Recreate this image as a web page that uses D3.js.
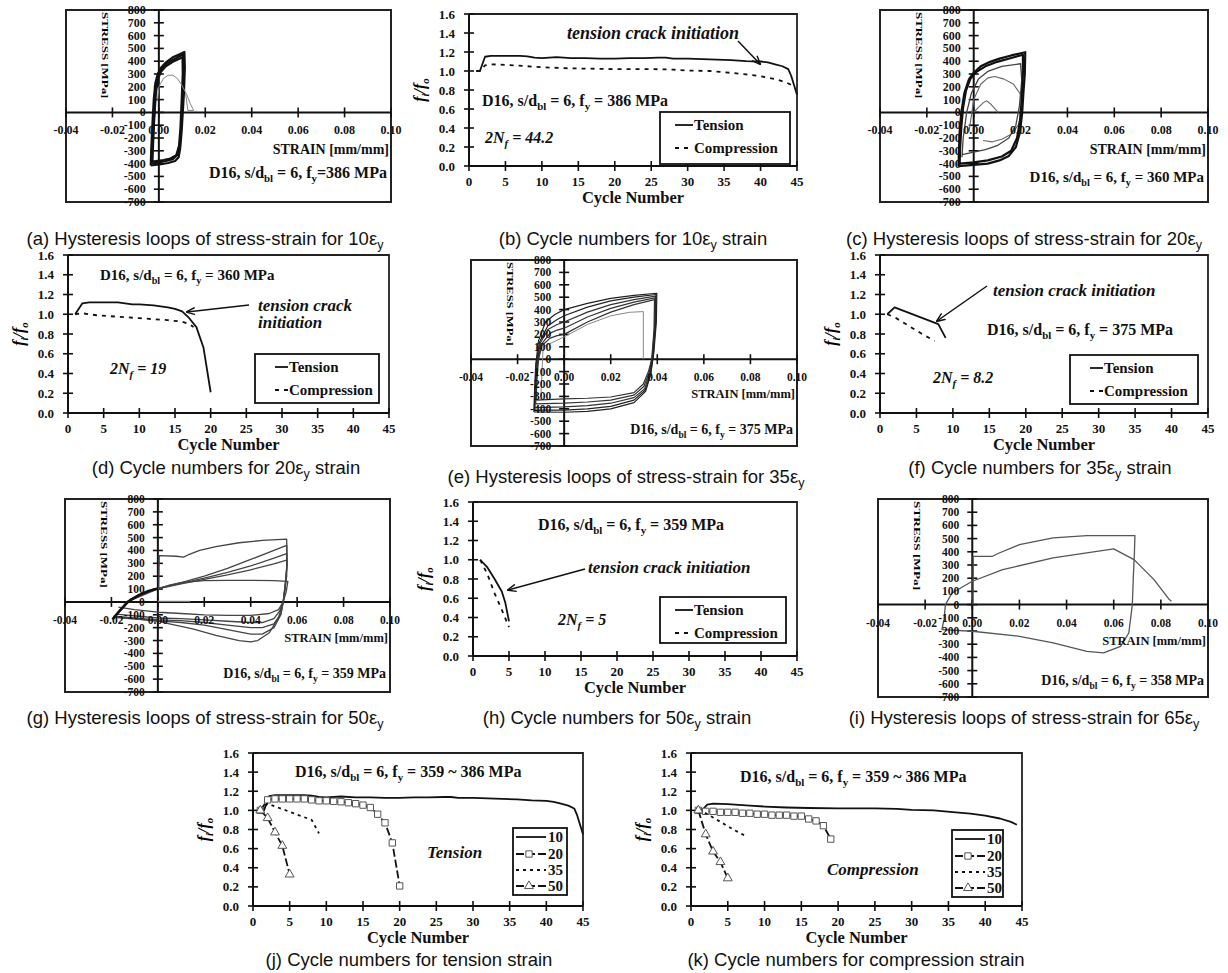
<!DOCTYPE html>
<html>
<head>
<meta charset="utf-8">
<script src="https://cdn.jsdelivr.net/npm/d3@7"></script>
<style>
  body { margin: 0; background: #fff; }
  svg { display: block; }
</style>
</head>
<body>
<svg id="fig" width="1228" height="973"></svg>
<script>
// ---- tick values ----
const strainTicks = [-0.04, -0.02, 0, 0.02, 0.04, 0.06, 0.08, 0.10]
const stressTicks = d3.range(-700, 801, 100)
const cycleTicks = d3.range(0, 46, 5)
const ratioTicks = [0, 0.2, 0.4, 0.6, 0.8, 1.0, 1.2, 1.4, 1.6]
const sumLabels = ['10', '20', '35', '50']

// ---- hysteresis loops [strain, stress MPa] ----
// 10 ey
const loop10a = [[-0.0035,-415],[-0.0033,-300],[-0.0028,-100],[-0.0022,100],[-0.0015,230],[-0.0005,300],[0.001,350],[0.003,390],[0.006,430],[0.009,455],[0.011,472],[0.0112,350],[0.0108,150],[0.0103,0],[0.0098,-150],[0.0092,-280],[0.0085,-350],[0.007,-380],[0.004,-395],[0.001,-405],[-0.0035,-415]]
const loop10b = [[-0.003,-400],[-0.0028,-280],[-0.0022,-80],[-0.0016,120],[-0.001,240],[0,310],[0.002,360],[0.005,400],[0.008,430],[0.0105,452],[0.0107,320],[0.0102,100],[0.0097,-100],[0.009,-250],[0.008,-330],[0.006,-365],[0.003,-380],[0,-390],[-0.003,-400]]
const loop10c = [[-0.0028,-385],[-0.0025,-250],[-0.002,-50],[-0.0013,150],[-0.0005,260],[0.001,320],[0.003,360],[0.006,395],[0.0095,425],[0.0102,432],[0.0103,300],[0.0098,80],[0.0093,-120],[0.0087,-260],[0.0075,-335],[0.005,-360],[0.002,-372],[-0.0028,-385]]
const loop10f = [[-0.0005,100],[0,200],[0.002,265],[0.004,290],[0.006,290],[0.008,265],[0.010,210],[0.012,140],[0.0135,70],[0.015,15],[0.0125,15],[0.0115,150]]
// 20 ey
const loop20a = [[-0.0065,-420],[-0.0063,-300],[-0.006,-150],[-0.0053,0],[-0.004,150],[-0.002,260],[0,310],[0.003,360],[0.007,395],[0.011,420],[0.016,445],[0.022,470],[0.0218,300],[0.0212,150],[0.0207,0],[0.0198,-150],[0.018,-270],[0.015,-340],[0.011,-375],[0.006,-400],[0,-410],[-0.0065,-420]]
const loop20b = [[-0.006,-400],[-0.0058,-280],[-0.0053,-120],[-0.0046,30],[-0.0033,170],[-0.0015,260],[0.001,315],[0.005,360],[0.01,395],[0.016,425],[0.021,450],[0.021,300],[0.0205,100],[0.0198,-60],[0.0185,-200],[0.016,-300],[0.012,-345],[0.006,-375],[0,-390],[-0.006,-400]]
const loop20c = [[-0.005,-350],[-0.0045,-200],[-0.003,0],[-0.001,150],[0.002,260],[0.006,320],[0.012,360],[0.02,380],[0.0205,250],[0.0195,50],[0.018,-100],[0.015,-200],[0.01,-260],[0.005,-290],[0,-310],[-0.005,-330]]
const loop20d = [[-0.002,-150],[0,100],[0.003,220],[0.006,270],[0.009,280],[0.013,260],[0.017,220],[0.02,140],[0.0205,0],[0.019,-100],[0.016,-170],[0.012,-210],[0.008,-230],[0.004,-220]]
const loop20f = [[0,0],[0.002,40],[0.004,75],[0.0055,90],[0.007,70],[0.009,30],[0.0105,0]]
// 35 ey
const loop35a = [[-0.013,-425],[-0.0127,-250],[-0.0122,-50],[-0.011,150],[-0.008,300],[-0.004,360],[0,400],[0.01,450],[0.02,490],[0.03,515],[0.0398,532],[0.0396,300],[0.0385,50],[0.0372,-120],[0.035,-260],[0.03,-350],[0.02,-400],[0.01,-420],[0,-428],[-0.013,-425]]
const loop35b = [[-0.0128,-410],[-0.0125,-230],[-0.012,-30],[-0.0105,140],[-0.007,270],[-0.003,320],[0,350],[0.01,420],[0.02,470],[0.03,500],[0.0395,522],[0.0393,280],[0.0382,30],[0.037,-130],[0.0348,-250],[0.03,-330],[0.02,-380],[0.01,-400],[0,-410],[-0.0128,-410]]
const loop35c = [[-0.0125,-390],[-0.0122,-210],[-0.0116,-20],[-0.0102,130],[-0.007,240],[-0.003,280],[0,300],[0.01,380],[0.02,440],[0.03,480],[0.0393,508],[0.039,260],[0.038,20],[0.0367,-120],[0.0345,-240],[0.03,-310],[0.02,-355],[0.01,-375],[0,-385],[-0.0125,-390]]
const loop35d = [[-0.0122,-360],[-0.012,-190],[-0.0113,-10],[-0.0098,120],[-0.006,210],[-0.003,235],[0,250],[0.01,340],[0.02,410],[0.03,460],[0.039,495],[0.0388,250],[0.0378,10],[0.0365,-110],[0.0342,-220],[0.03,-290],[0.02,-330],[0.01,-345],[0,-355],[-0.0122,-360]]
const loop35e = [[-0.012,-330],[-0.0117,-170],[-0.011,0],[-0.0095,110],[-0.006,170],[-0.003,190],[0,200],[0.01,300],[0.02,380],[0.03,440],[0.0388,480],[0.0386,240],[0.0376,0],[0.0362,-100],[0.034,-200],[0.03,-270],[0.02,-305],[0.01,-315],[0,-320],[-0.012,-330]]
const loop35f = [[-0.01,-300],[-0.009,100],[0,180],[0.01,280],[0.02,350],[0.028,378],[0.034,384],[0.034,0]]
// 50 ey
const loop50o = [[-0.0195,-135],[-0.017,-80],[-0.013,0],[-0.008,55],[-0.004,85],[0,105]]
const loop50a = [[0.0004,100],[0.0006,360],[0.008,355],[0.011,348],[0.013,365],[0.018,400],[0.025,430],[0.035,460],[0.045,478],[0.0555,488],[0.0557,300],[0.0548,100],[0.054,0],[0.052,-120],[0.048,-240],[0.043,-300],[0.04,-310],[0.035,-300],[0.025,-260],[0.015,-210],[0.005,-170],[0,-150],[-0.01,-130],[-0.019,-115]]
const loop50b = [[-0.019,-115],[-0.016,-60],[-0.012,20],[-0.006,75],[0,105],[0.01,150],[0.02,200],[0.03,260],[0.04,330],[0.05,400],[0.0555,440],[0.0556,300],[0.055,150],[0.054,0],[0.053,-100],[0.05,-200],[0.045,-250],[0.04,-250],[0.03,-215],[0.02,-180],[0.01,-160],[0,-148],[-0.019,-120]]
const loop50c = [[-0.019,-120],[-0.012,15],[0,105],[0.01,145],[0.02,185],[0.03,230],[0.04,280],[0.05,340],[0.0555,375],[0.0555,250],[0.054,0],[0.053,-90],[0.05,-170],[0.045,-200],[0.04,-200],[0.03,-180],[0.02,-160],[0.01,-145],[0,-140],[-0.019,-110]]
const loop50d = [[-0.018,-105],[-0.012,10],[0,102],[0.01,140],[0.02,175],[0.03,210],[0.04,250],[0.05,295],[0.0555,325],[0.0555,200],[0.054,0],[0.0525,-70],[0.05,-130],[0.045,-160],[0.04,-160],[0.03,-150],[0.02,-140],[0.01,-130],[0,-125],[-0.018,-95]]
const loop50e = [[0,100],[0.005,130],[0.01,150],[0.02,165],[0.03,168],[0.04,168],[0.05,165],[0.056,160],[0.0553,80],[0.054,0],[0.052,-60],[0.048,-90],[0.04,-105],[0.03,-105],[0.02,-100],[0.01,-90],[0,-80],[-0.01,-60],[-0.017,-40]]
const loop50f = [[0,6],[0.014,6]]
// 65 ey
const loop65a = [[0.0003,0],[0.0004,366],[0.0086,366],[0.0114,391],[0.02,454],[0.0343,505],[0.0486,523],[0.069,523],[0.0688,400],[0.0683,200],[0.0679,0],[0.0664,-215],[0.0629,-316],[0.0557,-366],[0.0486,-354],[0.0343,-290],[0.02,-240],[0,-202],[-0.0129,-189]]
const loop65b = [[-0.0129,-189],[-0.012,-114],[-0.0114,0],[-0.0086,88],[0,177],[0.0129,265],[0.0343,354],[0.05,395],[0.06,422],[0.0686,341],[0.0771,189],[0.0836,38],[0.0845,25]]

// ---- fi/fo against cycle number [cycle, ratio] ----
const tension10 = [[1,1.0],[1.5,1.0],[2.2,1.15],[3,1.16],[5,1.16],[7,1.16],[8,1.155],[9,1.14],[10,1.135],[12,1.145],[14,1.135],[16,1.135],[18,1.13],[20,1.13],[22,1.135],[24,1.135],[26,1.14],[27,1.14],[28,1.13],[30,1.13],[32,1.125],[34,1.12],[36,1.115],[38,1.105],[40,1.1],[41,1.09],[42,1.07],[43,1.05],[43.8,1.02],[44.2,0.95],[44.6,0.85],[45,0.75]]
const compression10 = [[1,1.0],[1.5,1.0],[2.2,1.06],[3,1.07],[5,1.065],[8,1.05],[10,1.04],[13,1.03],[16,1.025],[20,1.02],[25,1.02],[28,1.015],[30,1.005],[33,1.0],[36,0.98],[38,0.965],[40,0.945],[42,0.915],[43.5,0.88],[44.3,0.85]]
const tension20 = [[1,1.0],[2,1.11],[3,1.12],[4,1.12],[5,1.12],[6,1.12],[7,1.12],[8,1.11],[9,1.10],[10,1.10],[11,1.095],[12,1.09],[13,1.08],[14,1.07],[15,1.055],[16,1.03],[17,0.96],[18,0.87],[19,0.66],[20,0.21]]
const compression20 = [[1,1.0],[2,1.01],[4,0.99],[6,0.98],[8,0.97],[10,0.96],[12,0.95],[14,0.94],[16,0.925],[17,0.9],[17.6,0.87]]
const tension35 = [[1,1.0],[2,1.07],[8,0.9],[9,0.76]]
const compression35 = [[1,1.0],[2,0.97],[4,0.88],[6,0.79],[7.5,0.73]]
const tension50 = [[1,1.0],[2,0.92],[3,0.8],[4,0.67],[4.5,0.55],[5,0.36]]
const compression50 = [[1,1.0],[2,0.85],[3,0.65],[4,0.48],[5,0.3]]
const sumComp20 = [[1,1.0],[2,0.99],[3,0.99],[4,0.98],[5,0.98],[6,0.98],[7,0.97],[8,0.97],[9,0.96],[10,0.96],[11,0.95],[12,0.95],[13,0.95],[14,0.94],[15,0.94],[16,0.91],[17,0.89],[18,0.84],[19,0.70]]
const sumTension50 = [[1,1.0],[2,0.92],[3,0.77],[4,0.63],[5,0.33]]
const sumComp50 = [[1,1.0],[2,0.75],[3,0.57],[4,0.46],[5,0.29]]

const svg = d3.select("#fig")
const serif = "'Liberation Serif','Times New Roman',serif"
const sans = "'Liberation Sans',Arial,sans-serif"

svg.append("defs").append("marker")
  .attr("id", "arr").attr("viewBox", "0 -5 10 10").attr("refX", 9).attr("refY", 0)
  .attr("markerWidth", 9).attr("markerHeight", 9).attr("markerUnits", "userSpaceOnUse").attr("orient", "auto")
  .append("path").attr("d", "M0,-4L10,0L0,4").attr("fill", "none").attr("stroke", "#111").attr("stroke-width", 1.6)

// text with subscripts: parts = [[string, isSub]]
function rich(t, parts, size, shift) {
  const sh = shift || 0.28
  let down = false
  parts.forEach(([s, sub]) => {
    const ts = t.append("tspan").text(s)
    if (sub) {
      ts.attr("font-size", size * 0.68)
      if (!down) { ts.attr("dy", size * sh); down = true }
    } else if (down) { ts.attr("dy", -size * sh); down = false }
  })
  return t
}

function txt(g, x, y, size, opt) {
  opt = opt || {}
  return g.append("text").attr("x", x).attr("y", y)
    .attr("font-family", opt.sans ? sans : serif)
    .attr("font-weight", opt.sans ? "normal" : "bold")
    .attr("font-style", opt.italic ? "italic" : "normal")
    .attr("font-size", size)
    .attr("text-anchor", opt.anchor || "start")
    .attr("fill", "#111")
}

function note(g, x, y, size, fy, anchor, eq) {
  rich(txt(g, x, y, size, { anchor: anchor }),
    [["D16, s/d"], ["bl", 1], [" = 6, f"], ["y", 1], [(eq || " = ") + fy + " MPa"]], size)
}

function caption(cx, cy, before, after) {
  const t = txt(svg, cx, cy + 6, 18.5, { sans: true, anchor: "middle" })
  if (after === null) t.text(before)
  else rich(t, [[before + "\u03B5"], ["y", 1], [after]], 18.5, 0.2)
}

function hline(g, x1, x2, y, w, c) {
  g.append("line").attr("x1", x1).attr("x2", x2).attr("y1", y).attr("y2", y).attr("stroke", c || "#111").attr("stroke-width", w)
}
function vline(g, x, y1, y2, w, c) {
  g.append("line").attr("x1", x).attr("x2", x).attr("y1", y1).attr("y2", y2).attr("stroke", c || "#111").attr("stroke-width", w)
}

// ---------- stress-strain panels ----------
function hystPanel(p) {
  const x = d3.scaleLinear().domain([-0.04, 0.10]).range([p.x0, p.x1])
  const y = d3.scaleLinear().domain([-700, 800]).range([p.y1, p.y0])
  const g = svg.append("g")
  g.append("rect").attr("x", p.x0).attr("y", p.y0).attr("width", p.x1 - p.x0).attr("height", p.y1 - p.y0)
    .attr("fill", "none").attr("stroke", "#222").attr("stroke-width", 2)
  hline(g, p.x0, p.x1, y(0), 2)
  vline(g, x(0), p.y0, p.y1, 2)
  strainTicks.forEach(v => vline(g, x(v), y(0) - 5, y(0) + 5, 1.6))
  stressTicks.forEach(v => hline(g, x(0) - 5, x(0) + 5, y(v), 1.6))

  const line = d3.line().x(d => x(d[0])).y(d => y(d[1])).curve(d3.curveLinear)
  p.loops.forEach(l => g.append("path").attr("d", line(l.d)).attr("fill", "none")
    .attr("stroke", l.c).attr("stroke-width", l.w).attr("stroke-linejoin", "round"))

  stressTicks.forEach(v => txt(g, x(0) - 13, y(v) + 4, p.tf, { anchor: "end" }).text(v))
  strainTicks.forEach(v => txt(g, x(v), y(0) + 22, p.tf, { anchor: "middle" }).text(v.toFixed(2)))

  txt(g, p.x1 - 2, p.sy, p.sf, { anchor: "end" }).text("STRAIN [mm/mm]")
  note(g, p.x1 - 4, p.ny, p.nf, p.fy, "end", p.eq)

  g.append("text").attr("transform", `translate(${p.x0 + 36},${p.y0 + 2}) rotate(90)`)
    .attr("font-family", serif).attr("font-weight", "bold").attr("font-size", 7.5)
    .attr("textLength", (p.y1 - p.y0) * 0.45).attr("lengthAdjust", "spacingAndGlyphs")
    .text("STRESS [MPa]")
}

// ---------- fi/fo vs cycle panels ----------
function cyclePanel(p) {
  const x = d3.scaleLinear().domain([0, 45]).range([p.x0, p.x1])
  const y = d3.scaleLinear().domain([0, 1.6]).range([p.y1, p.y0])
  const g = svg.append("g")
  g.append("path").attr("d", `M${p.x0},${p.y0}H${p.x1}V${p.y1}`).attr("fill", "none").attr("stroke", "#222").attr("stroke-width", 1.8)
  hline(g, p.x0, p.x1, p.y1, 2)
  vline(g, p.x0, p.y0, p.y1, 2)
  ratioTicks.forEach(v => hline(g, p.x0 - 5, p.x0 + 5, y(v), 1.6))
  cycleTicks.forEach(v => vline(g, x(v), p.y1 - 5, p.y1 + 5, 1.6))
  ratioTicks.forEach(v => txt(g, p.x0 - 14, y(v) + 4.5, 13, { anchor: "end" }).text(v.toFixed(1)))
  cycleTicks.forEach(v => txt(g, x(v), p.y1 + 20, 13, { anchor: "middle" }).text(v))
  txt(g, (p.x0 + p.x1) / 2, p.y1 + 37, 16.5, { anchor: "middle" }).text("Cycle Number")

  const yl = g.append("text").attr("transform", `translate(${p.x0 - 44},${(p.y0 + p.y1) / 2}) rotate(-90)`)
    .attr("font-family", serif).attr("font-weight", "bold").attr("font-style", "italic")
    .attr("font-size", 16).attr("text-anchor", "middle")
  rich(yl, [["f"], ["i", 1], ["/f"], ["o", 1]], 16)

  const line = d3.line().x(d => x(d[0])).y(d => y(d[1]))
  p.series.forEach(s => {
    g.append("path").attr("d", line(s.d)).attr("fill", "none").attr("stroke", "#111")
      .attr("stroke-width", s.w || 1.8).attr("stroke-dasharray", s.dash || null).attr("stroke-linejoin", "round")
    if (s.mark) {
      const sym = d3.symbol().type(s.mark === "sq" ? d3.symbolSquare : d3.symbolTriangle).size(s.mark === "sq" ? 40 : 34)
      g.selectAll(null).data(s.d).join("path").attr("d", sym)
        .attr("transform", d => `translate(${x(d[0])},${y(d[1])})`)
        .attr("fill", "#fff").attr("stroke", "#555").attr("stroke-width", 1)
    }
  })
  return g
}

function tcLegend(g, bx, by, bw, bh, sx) {
  g.append("rect").attr("x", bx).attr("y", by).attr("width", bw).attr("height", bh)
    .attr("fill", "#fff").attr("stroke", "#111").attr("stroke-width", 1.8)
  hline(g, bx + sx, bx + 33, by + 13, 1.8)
  txt(g, bx + 34, by + 18, 15).text("Tension")
  g.append("line").attr("x1", bx + sx).attr("x2", bx + 33).attr("y1", by + 36).attr("y2", by + 36)
    .attr("stroke", "#111").attr("stroke-width", 1.8).attr("stroke-dasharray", "4,5")
  txt(g, bx + 34, by + 41, 15).text("Compression")
}

function arrow(g, x1, y1, x2, y2) {
  g.append("line").attr("x1", x1).attr("y1", y1).attr("x2", x2).attr("y2", y2)
    .attr("stroke", "#111").attr("stroke-width", 1.5).attr("marker-end", "url(#arr)")
}

function nf(g, x, y, val) {
  rich(txt(g, x, y, 16, { italic: true }), [["2N"], ["f", 1], [" = " + val]], 16)
}

const blk = (d, w) => ({ d: d, c: "#111", w: w || 2.2 })
const gry = (d, c, w) => ({ d: d, c: c, w: w || 1.2 })

// (a)
hystPanel({ x0: 66, x1: 391, y0: 10, y1: 202, tf: 12, sf: 14, sy: 154, nf: 16, ny: 178, fy: "386", eq: "=",
  loops: [blk(loop10a), blk(loop10b), blk(loop10c), gry(loop10f, "#888", 1)] })
// (c)
hystPanel({ x0: 880, x1: 1208, y0: 10, y1: 202, tf: 12, sf: 14, sy: 154, nf: 15, ny: 182, fy: "360",
  loops: [gry(loop20d, "#666", 1.1), gry(loop20f, "#666", 1.1), gry(loop20c, "#444", 1.3), blk(loop20a), blk(loop20b)] })
// (e)
hystPanel({ x0: 471, x1: 797, y0: 260, y1: 446, tf: 11.5, sf: 12.5, sy: 398, nf: 14, ny: 434, fy: "375",
  loops: [gry(loop35f, "#888", 1), gry(loop35e, "#333"), gry(loop35d, "#333"), gry(loop35c, "#333"), gry(loop35b, "#222"), gry(loop35a, "#222")] })
// (g)
hystPanel({ x0: 65, x1: 390, y0: 499, y1: 692, tf: 11.5, sf: 12.5, sy: 642, nf: 14, ny: 678, fy: "359",
  loops: [gry(loop50f, "#aaa", 1), gry(loop50e, "#444", 1.3), gry(loop50d, "#444", 1.3), gry(loop50c, "#444", 1.3), gry(loop50b, "#444", 1.3), gry(loop50a, "#444", 1.3), blk(loop50o, 2.6)] })
// (i)
hystPanel({ x0: 878, x1: 1208, y0: 499, y1: 697, tf: 11.5, sf: 12.5, sy: 645, nf: 14, ny: 685, fy: "358",
  loops: [gry(loop65a, "#555", 1.3), gry(loop65b, "#555", 1.3)] })

// (b)
let g = cyclePanel({ x0: 469, x1: 797, y0: 14, y1: 166,
  series: [{ d: tension10 }, { d: compression10, dash: "4,5" }] })
tcLegend(g, 660, 112, 130, 52, 15)
txt(g, 567, 39, 18, { italic: true }).text("tension crack initiation")
arrow(g, 738, 41, 760, 64)
note(g, 482, 106, 16, "386")
nf(g, 485, 143, "44.2")

// (d)
g = cyclePanel({ x0: 68, x1: 389, y0: 255, y1: 413,
  series: [{ d: tension20 }, { d: compression20, dash: "4,5" }] })
tcLegend(g, 255, 354, 124, 49, 20)
note(g, 100, 280, 15, "360")
txt(g, 258, 311, 17, { italic: true }).text("tension crack")
txt(g, 258, 328, 17, { italic: true }).text("initiation")
arrow(g, 249, 305, 187, 312)
nf(g, 110, 374, "19")

// (f)
g = cyclePanel({ x0: 880, x1: 1208, y0: 255, y1: 413,
  series: [{ d: tension35 }, { d: compression35, dash: "4,5" }] })
tcLegend(g, 1070, 355, 128, 49, 20)
txt(g, 993, 296, 17, { italic: true }).text("tension crack initiation")
arrow(g, 987, 286, 937, 321)
note(g, 987, 335, 16, "375")
nf(g, 933, 383, "8.2")

// (h)
g = cyclePanel({ x0: 473, x1: 797, y0: 502, y1: 656,
  series: [{ d: tension50 }, { d: compression50, dash: "4,5" }] })
tcLegend(g, 660, 597, 126, 46, 15)
note(g, 538, 530, 16, "359")
txt(g, 588, 573, 17, { italic: true }).text("tension crack initiation")
arrow(g, 585, 569, 508, 590)
nf(g, 558, 625, "5")

// summary legend
function sumLegend(g, bx, by, bw, bh, styles) {
  g.append("rect").attr("x", bx).attr("y", by).attr("width", bw).attr("height", bh)
    .attr("fill", "#fff").attr("stroke", "#111").attr("stroke-width", 1.8)
  const ys = [9, 26, 42, 58]
  sumLabels.forEach((lab, i) => {
    const s = styles[i], yy = by + ys[i]
    g.append("line").attr("x1", bx + 3).attr("x2", bx + 33).attr("y1", yy).attr("y2", yy)
      .attr("stroke", "#111").attr("stroke-width", 1.8).attr("stroke-dasharray", s.dash || null)
    if (s.mark) {
      g.append("path").attr("d", d3.symbol().type(s.mark === "sq" ? d3.symbolSquare : d3.symbolTriangle).size(s.mark === "sq" ? 40 : 34))
        .attr("transform", `translate(${bx + 16},${yy})`).attr("fill", "#fff").attr("stroke", "#555")
    }
    txt(g, bx + 35, yy + 5, 15).text(lab)
  })
}

// (j)
const jStyles = [{ d: tension10 }, { d: tension20, dash: "8,3", mark: "sq" }, { d: tension35, dash: "3,4" }, { d: sumTension50, dash: "8,3", mark: "tri" }]
g = cyclePanel({ x0: 253, x1: 583, y0: 753, y1: 906, series: jStyles })
sumLegend(g, 513, 828, 54, 67, jStyles)
note(g, 295, 777, 16, "359 ~ 386")
txt(g, 427, 858, 17, { italic: true }).text("Tension")

// (k)
const kStyles = [{ d: compression10 }, { d: sumComp20, dash: "8,3", mark: "sq" }, { d: compression35, dash: "3,4" }, { d: sumComp50, dash: "8,3", mark: "tri" }]
g = cyclePanel({ x0: 691, x1: 1022, y0: 753, y1: 906, series: kStyles })
sumLegend(g, 952, 830, 51, 67, kStyles)
note(g, 740, 782, 16, "359 ~ 386")
txt(g, 827, 875, 17, { italic: true }).text("Compression")

// captions
caption(205, 239, "(a) Hysteresis loops of stress-strain for 10", "")
caption(633, 239, "(b) Cycle numbers for 10", " strain")
caption(1024, 239, "(c) Hysteresis loops of stress-strain for 20", "")
caption(226, 468, "(d) Cycle numbers for 20", " strain")
caption(626, 477, "(e) Hysteresis loops of stress-strain for 35", "")
caption(1040, 468, "(f) Cycle numbers for 35", " strain")
caption(205, 718, "(g) Hysteresis loops of stress-strain for 50", "")
caption(617, 718, "(h) Cycle numbers for 50", " strain")
caption(1024, 718, "(i) Hysteresis loops of stress-strain for 65", "")
caption(409, 960, "(j) Cycle numbers for tension strain", null)
caption(856, 960, "(k) Cycle numbers for compression strain", null)
</script>
</body>
</html>
